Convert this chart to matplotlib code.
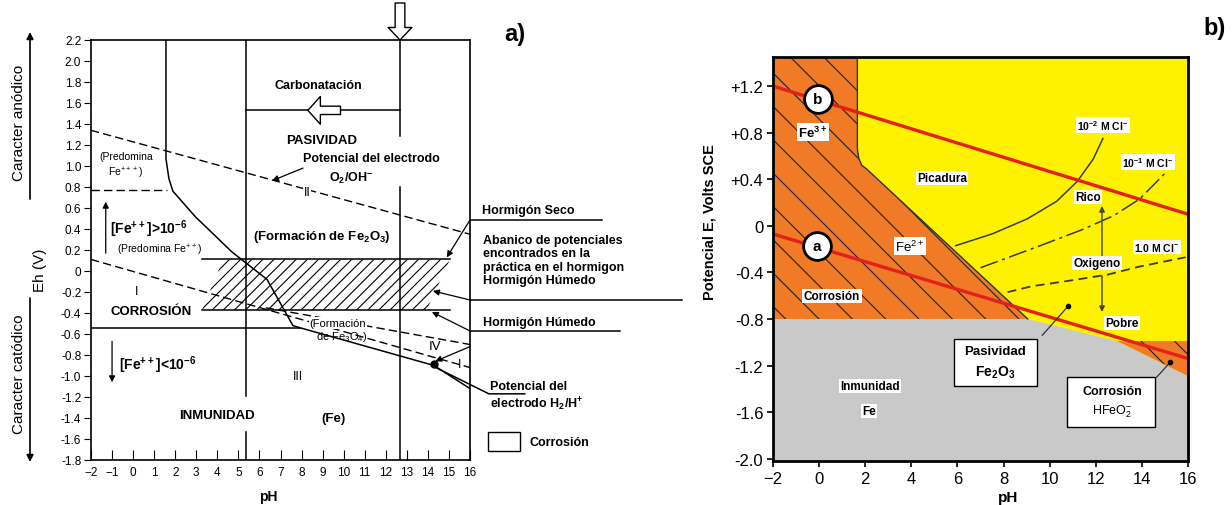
import numpy as np
import matplotlib
matplotlib.use('Agg')
import matplotlib.pyplot as plt
from matplotlib.patches import Polygon, FancyArrowPatch, Rectangle

plt.rcParams['font.family'] = ['Liberation Sans', 'DejaVu Sans']
plt.rcParams['mathtext.default'] = 'regular'
plt.rcParams['hatch.linewidth'] = 0.8

W, H = 1232, 506

# ---- panel a) Pourbaix Fe (pH, Eh en V)
ph_o2 = [-2, 16]
eh_o2 = [1.34, 0.35]
ph_h2 = [-2, 16]
eh_h2 = [0.11, -0.92]
ph_fe3 = [-2, 1.6]
eh_fe3 = [0.77, 0.77]
ph_fe2 = [1.56, 1.56, 1.70, 1.89, 2.94, 4.70, 6.36, 7.59, 7.92, 14.29, 16]
eh_fe2 = [2.2, 1.07, 0.88, 0.76, 0.52, 0.18, -0.08, -0.52, -0.54, -0.90, -1.12]
ph_fe = [-2, 7.92]
eh_fe = [-0.54, -0.54]
ph_fe3o4 = [6.3, 16]
eh_fe3o4 = [-0.35, -0.70]
band_ph = [3.27, 4.27, 15.05, 13.95]
band_eh = [-0.37, 0.11, 0.11, -0.37]
band_span = [3.27, 15.05]
ph_v1, ph_v2 = 5.36, 12.67
eh_carb = 1.53
dot_a = (14.3, -0.89)

# ---- panel b) (pH, E vs SCE)
ph_corr = [-2, 1.66, 1.66, 1.72, 1.85, 2.05, 9.05, -2]
e_corr = [1.6, 1.6, 0.66, 0.58, 0.52, 0.49, -0.80, -0.80]
ph_inm = [-2, 9.05, 12.9, 16, 16, -2]
e_inm = [-0.80, -0.80, -0.99, -1.29, -2.2, -2.2]
ph_hfeo2 = [12.9, 16, 16]
e_hfeo2 = [-0.99, -0.99, -1.29]
ph_red = [-2, 16]
e_red_a = [-0.07, -1.14]
e_red_b = [1.20, 0.10]
ph_cl2 = [5.93, 7.5, 9.03, 10.3, 11.19, 11.88, 12.31]
e_cl2 = [-0.17, -0.07, 0.06, 0.21, 0.38, 0.57, 0.75]
ph_cl1 = [7.0, 9.6, 11.45, 12.8, 13.9, 15.1]
e_cl1 = [-0.36, -0.17, -0.03, 0.09, 0.23, 0.47]
ph_cl0 = [8.17, 9.2, 10.9, 12.5, 13.9, 15.9]
e_cl0 = [-0.57, -0.52, -0.47, -0.42, -0.35, -0.27]
circ_ph = [-0.06, -0.1]
circ_e = [1.09, -0.17]
circ_lab = ['b', 'a']


def fx(x, y):
    return x / W, 1 - y / H


fig = plt.figure(figsize=(W / 100, H / 100), dpi=100)

# ================= a) =================
ax = fig.add_axes([91 / W, 1 - 461 / H, 379 / W, 420 / H])
ax.set_xlim(-2, 16)
ax.set_ylim(-1.8, 2.2)
ax.set_xticks(range(-2, 17))
yt = np.round(np.arange(-1.8, 2.21, 0.2), 1)
ax.set_yticks(yt)
ax.set_yticklabels(['0' if v == 0 else f'{v:.1f}' for v in yt])
ax.tick_params(axis='y', direction='out', length=5, labelsize=8.5, pad=2)
ax.tick_params(axis='x', direction='in', length=7, labelsize=8.5, pad=4)
for s in ax.spines.values():
    s.set_linewidth(1.2)

lk = dict(color='k', lw=1.1)
dk = dict(color='k', lw=1.0, ls=(0, (6, 3)))
ax.plot(ph_o2, eh_o2, **dk)
ax.plot(ph_h2, eh_h2, **dk)
ax.plot(ph_fe3, eh_fe3, **dk)
ax.plot(ph_fe3o4, eh_fe3o4, **dk)
ax.plot(ph_fe2, eh_fe2, **lk)
ax.plot(ph_fe, eh_fe, **lk)
ax.plot([ph_v1, ph_v1], [2.2, -1.19], **lk)
ax.plot([ph_v1, ph_v1], [-1.53, -1.8], **lk)
ax.plot([ph_v2, ph_v2], [2.2, 1.29], **lk)
ax.plot([ph_v2, ph_v2], [0.80, -1.8], **lk)
ax.plot([ph_v1, ph_v2], [eh_carb, eh_carb], **lk)

ax.add_patch(Polygon(np.column_stack([band_ph, band_eh]), closed=True,
                     fc='none', ec='k', hatch='///', lw=0, zorder=1))
ax.plot(band_span, [band_eh[1]] * 2, **lk)
ax.plot(band_span, [band_eh[0]] * 2, **lk)
ax.plot(*dot_a, 'ko', ms=5)

# flecha hueca carbonatacion
ax.add_patch(FancyArrowPatch((9.85, eh_carb), (8.3, eh_carb),
             arrowstyle='simple,head_length=9,head_width=20,tail_width=6',
             fc='white', ec='k', lw=1, shrinkA=0, shrinkB=0, zorder=5))
# flecha hueca superior
fig.add_artist(FancyArrowPatch(fx(400, 4), fx(400, 41),
               arrowstyle='simple,head_length=9,head_width=17,tail_width=7',
               fc='white', ec='k', lw=1, shrinkA=0, shrinkB=0,
               transform=fig.transFigure))

ap = dict(arrowstyle='-|>', color='k', lw=0.9, mutation_scale=9,
          shrinkA=0, shrinkB=0)
ax.annotate('', xy=(6.6, 0.86), xytext=(8.07, 0.98), arrowprops=ap)
ax.annotate('', xy=(14.9, 0.13), xytext=(16, 0.486), arrowprops=ap,
            annotation_clip=False)
ax.annotate('', xy=(14.24, -0.19), xytext=(16, -0.276), arrowprops=ap,
            annotation_clip=False)
ax.annotate('', xy=(14.19, -0.39), xytext=(16, -0.571), arrowprops=ap,
            annotation_clip=False)
ax.annotate('', xy=(14.35, -0.86), xytext=(16, -0.72), arrowprops=ap,
            annotation_clip=False)
ax.plot([22.26, 16], [0.486, 0.486], clip_on=False, **lk)
ax.plot([26.06, 16], [-0.276, -0.276], clip_on=False, **lk)
ax.plot([23.12, 16], [-0.571, -0.571], clip_on=False, **lk)
ax.plot([18.6, 16.9, 14.38], [-1.17, -1.17, -0.92], clip_on=False, **lk)
ax.annotate('', xy=(-1.3, 0.66), xytext=(-1.3, 0.17), arrowprops=ap)
ax.annotate('', xy=(-1.0, -1.06), xytext=(-1.0, -0.67), arrowprops=ap)
ax.add_patch(Rectangle((16.85, -1.714), 1.52, 0.181, fc='white', ec='k',
                       lw=1, clip_on=False))

ap2 = dict(arrowstyle='-|>', color='k', lw=1.2, mutation_scale=10,
           shrinkA=0, shrinkB=0)
fig.add_artist(FancyArrowPatch(fx(30, 200), fx(30, 33), transform=fig.transFigure, **ap2))
fig.add_artist(FancyArrowPatch(fx(30, 299), fx(30, 463), transform=fig.transFigure, **ap2))


def t(x, y, s, size=9, weight='bold', ha='center', va='center', **kw):
    fig.text(*fx(x, y), s, fontsize=size, fontweight=weight, ha=ha, va=va, **kw)


wb = dict(fc='white', ec='none', pad=0.5)
t(318, 86, 'Carbonatación')
t(322, 141, 'PASIVIDAD', 9.5)
t(371, 159, 'Potencial del electrodo')
t(351, 178, 'O$_2$/OH$^{-}$')
t(307, 193, 'II', 9, 'normal', bbox=wb)
t(322, 237, '(Formación de Fe$_2$O$_3$)', 9.5)
t(126, 157, '(Predomina', 7.5, 'normal')
t(126, 173, 'Fe$^{+++}$)', 7.5, 'normal')
t(110, 229, '[Fe$^{++}$]>10$^{-6}$', 10, ha='left')
t(160, 250, '(Predomina Fe$^{++}$)', 7.5, 'normal')
t(137, 292, 'I', 9, 'normal')
t(151, 312, 'CORROSIÓN', 9.5)
t(119, 365, '[Fe$^{++}$]<10$^{-6}$', 10, ha='left')
t(217, 416, 'INMUNIDAD', 9.5)
t(298, 377, 'III', 9, 'normal')
t(334, 419, '(Fe)', 9.5)
t(338, 324, '(Formación', 8, 'normal', bbox=wb)
t(368, 337, 'de Fe$_3$O$_4$)', 8, 'normal', ha='right')
t(435, 347, 'IV', 9.5, 'normal')
t(460, 365, 'I', 9, 'normal')
t(482, 211, 'Hormigón Seco', ha='left')
t(483, 235, 'Abanico de potenciales\nencontrados en la\npráctica en el hormigon\nHormigón Húmedo',
  ha='left', va='top', linespacing=1.15)
t(483, 323, 'Hormigón Húmedo', ha='left')
t(490, 387, 'Potencial del', ha='left')
t(490, 404, 'electrodo H$_2$/H$^{+}$', ha='left')
t(530, 443, 'Corrosión', ha='left')
t(515, 34, 'a)', 17)
t(40, 270, 'Eh (V)', 11, 'normal', rotation=90)
t(19, 123, 'Caracter anódico', 11, 'normal', rotation=90)
t(19, 374, 'Caracter catódico', 11, 'normal', rotation=90)
t(268, 497, 'pH', 10)

# ================= b) =================
bx = fig.add_axes([773 / W, 1 - 462 / H, 415 / W, 404 / H])
bx.set_xlim(-2, 16)
bx.set_ylim(-2.02, 1.45)
bx.set_facecolor('#FFF200')
bx.set_xticks(range(-2, 17, 2))
ey = [1.2, 0.8, 0.4, 0, -0.4, -0.8, -1.2, -1.6, -2.0]
bx.set_yticks(ey)
bx.set_yticklabels([f'+{v:.1f}' if v > 0 else ('0' if v == 0 else f'-{abs(v):.1f}') for v in ey])
bx.tick_params(direction='out', length=4, width=1.2, labelsize=12, pad=3)
for s in bx.spines.values():
    s.set_linewidth(2)
    s.set_zorder(10)

bx.add_patch(Polygon(np.column_stack([ph_inm, e_inm]), closed=True,
                     fc='#C9C9C9', ec='none', zorder=1))
bx.add_patch(Polygon(np.column_stack([ph_corr, e_corr]), closed=True,
                     fc='#F07A26', ec='#222222', hatch='\\', lw=0, zorder=1))
bx.add_patch(Polygon(np.column_stack([ph_hfeo2, e_hfeo2]), closed=True,
                     fc='#F07A26', ec='#222222', hatch='\\', lw=0, zorder=1))
bx.plot(ph_corr[1:7], e_corr[1:7], color='#333333', lw=1, zorder=2)

bx.plot(ph_cl2, e_cl2, color='#3a3a30', lw=1.1, zorder=2)
bx.plot(ph_cl1, e_cl1, color='#3a3a30', lw=1.1, ls=(0, (12, 3, 2, 3)), zorder=2)
bx.plot(ph_cl0, e_cl0, color='#3a3a30', lw=1.3, ls=(0, (5, 3)), zorder=2)

bx.plot(ph_red, e_red_a, color='#E3201B', lw=2.4, zorder=3)
bx.plot(ph_red, e_red_b, color='#E3201B', lw=2.4, zorder=3)
bx.plot(circ_ph, circ_e, 'o', ms=20, mfc='white', mec='k', mew=2, zorder=4)
for p, e, s in zip(circ_ph, circ_e, circ_lab):
    bx.text(p, e, s, ha='center', va='center', fontsize=11, fontweight='bold', zorder=5)

ap3 = dict(arrowstyle='-|>', color='#444444', lw=1, mutation_scale=8,
           shrinkA=0, shrinkB=0)
bx.annotate('', xy=(12.27, 0.17), xytext=(12.27, -0.26), arrowprops=ap3)
bx.annotate('', xy=(12.27, -0.74), xytext=(12.27, -0.43), arrowprops=ap3)
bx.plot([9.68, 10.8], [-0.94, -0.69], color='#333333', lw=0.9, zorder=3)
bx.plot([14.64, 15.24], [-1.30, -1.17], color='#333333', lw=0.9, zorder=3)
bx.plot([10.8, 15.24], [-0.69, -1.17], 'ko', ms=3, zorder=3)
bx.add_patch(Rectangle((5.84, -1.38), 3.62, 0.41, fc='white', ec='k', lw=1, zorder=4))
bx.add_patch(Rectangle((10.76, -1.73), 3.83, 0.43, fc='white', ec='k', lw=1, zorder=4))

wb2 = dict(fc='white', ec='none', pad=1)
t(813, 133, 'Fe$^{3+}$', 9.5, bbox=wb2)
t(942, 179, 'Picadura', 8.5, bbox=wb2)
t(910, 247, 'Fe$^{2+}$', 9.5, 'normal', bbox=wb2)
t(832, 297, 'Corrosión', 8.5, bbox=wb2)
t(870, 387, 'Inmunidad', 8.5, bbox=wb2)
t(869, 412, 'Fe', 8.5, bbox=wb2)
t(995, 352, 'Pasividad', 9.5, zorder=6)
t(995, 373, 'Fe$_2$O$_3$', 10, zorder=6)
t(1112, 392, 'Corrosión', 9, zorder=6)
t(1112, 412, 'HFeO$_2^{-}$', 9, 'normal', zorder=6)
t(1088, 198, 'Rico', 8.5, bbox=wb2)
t(1097, 264, 'Oxigeno', 8.5, bbox=wb2)
t(1122, 324, 'Pobre', 8.5, bbox=wb2)
t(1103, 126, '10$^{-2}$ M Cl$^{-}$', 7.5, bbox=wb2)
t(1148, 163, '10$^{-1}$ M Cl$^{-}$', 7.5, bbox=wb2)
t(1157, 248, '1.0 M Cl$^{-}$', 7.5, bbox=wb2)
t(710, 222, 'Potencial E, Volts SCE', 10.5, rotation=90)
t(1008, 498, 'pH', 11)
t(1215, 28, 'b)', 17)

fig.savefig('out.png', dpi=100)
